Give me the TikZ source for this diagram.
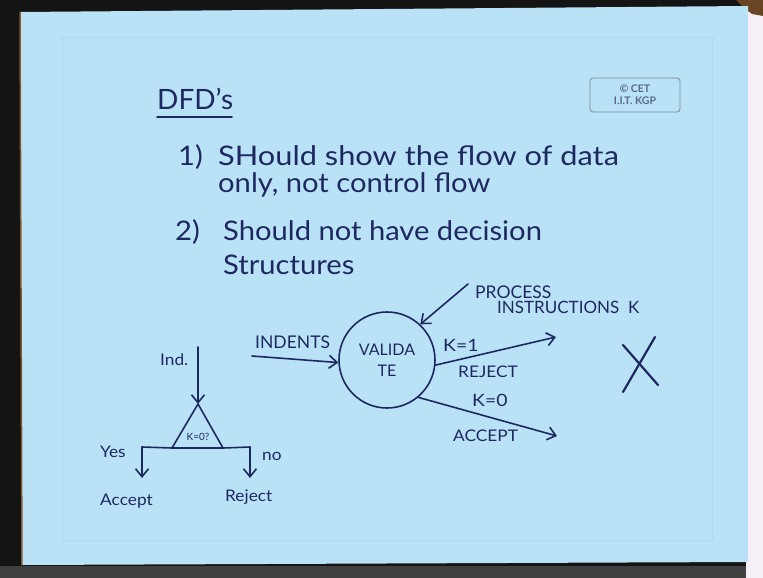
\documentclass[tikz,border=0pt]{standalone}
\usepackage{fontspec}
\setmainfont{Lato}
\newfontfamily\handwide[FakeStretch=1.08]{Lato}
\newfontfamily\handwider[FakeStretch=1.14]{Lato}
\usetikzlibrary{arrows.meta}
\definecolor{paper}{RGB}{186,226,246}
\definecolor{ink}{RGB}{30,40,96}
\definecolor{framec}{RGB}{174,216,238}
\definecolor{cetc}{RGB}{90,105,130}
\definecolor{sidec}{RGB}{246,240,246}
\begin{document}
\begin{tikzpicture}[x=1pt,y=-1pt,
  hand/.style={draw=ink, line width=1.6pt, line cap=round, line join=round},
  arr/.style={hand, -{Straight Barb[length=8pt,width=13pt,line width=1.6pt]}},
  txt/.style={text=ink, inner sep=0pt, font=\handwide\fontsize{27}{30}\selectfont, anchor=base west},
  lbl/.style={text=ink, inner sep=0pt, font=\fontsize{17.5}{20}\selectfont, anchor=base west},
  sml/.style={text=ink, inner sep=0pt, font=\handwide\fontsize{16}{18}\selectfont, anchor=base west}]
\useasboundingbox (0,0) rectangle (763,578);
% background
\fill[black!92] (0,0) rectangle (763,578);
\fill[sidec] (746,8) rectangle (763,578);
\fill[brown!55!black] (736,0) -- (763,0) -- (763,16) -- (752,14) -- (744,8) -- cycle;
\fill[paper] (20,12) -- (748,6) -- (748,562) -- (22,565) -- cycle;
\draw[brown!70!black, line width=1.5pt] (20,12) -- (22,565);
\fill[black!75] (0,566) rectangle (746,578);
\draw[framec, line width=1pt] (62,38) rectangle (712,540);
% CET box
\node[draw=cetc!80, rounded corners=3pt, line width=0.8pt, minimum width=90pt, minimum height=34pt,
  align=center, text=cetc, font=\bfseries\fontsize{10.5}{12}\selectfont] (cet) at (635,95) {© CET\\I.I.T. KGP};
% title
\node[text=ink, inner sep=0pt, font=\fontsize{28}{30}\selectfont, anchor=base west] (title) at (157,110) {DFD's};
\coordinate (ul1) at (157,117);
\coordinate (ul2) at (232,117);
\draw[hand] (ul1) -- (ul2);
% rules
\node[txt] (n1) at (178,165) {1)};
\node[txt, font=\handwider\fontsize{27}{30}\selectfont] (r1) at (218,165) {SHould show the flow of data};
\node[txt] (r1b) at (218,192) {only, not control flow};
\node[txt] (n2) at (175,240) {2)};
\node[txt] (r2) at (223,240) {Should not have decision};
\node[txt] (r2b) at (223,274) {Structures};
% DFD
\node[circle, draw=ink, line width=1.6pt, minimum size=96pt, inner sep=0pt, align=center,
  text=ink, font=\fontsize{16}{21}\selectfont] (val) at (387,360) {VALIDA\\TE};
\coordinate (indS) at (252,356);
\draw[arr] (indS) -- (val.183);
\node[lbl] (indl) at (255,348) {INDENTS};
\coordinate (pS) at (468,284);
\draw[arr] (pS) -- (val.47);
\node[lbl] (proc) at (475,298) {PROCESS};
\node[lbl, font=\fontsize{17}{20}\selectfont] (instr) at (497,313) {INSTRUCTIONS\ \ K};
\coordinate (k1E) at (556,337);
\draw[arr] (val.-6) -- (k1E);
\node[sml, font=\handwider\fontsize{17}{18}\selectfont] (k1) at (443,351) {K=1};
\node[sml] (rej) at (458,377) {REJECT};
\coordinate (k0E) at (557,436);
\draw[arr] (val.-50) -- (k0E);
\node[sml, font=\handwider\fontsize{17}{18}\selectfont] (k0) at (472,406) {K=0};
\node[sml] (acc) at (453,441) {ACCEPT};
% big X
\draw[hand, line width=2.2pt] (623,345) -- (658,385);
\draw[hand, line width=2.2pt] (655,337) -- (623,392);
% decision structure
\node[sml] (indn) at (160,365) {Ind.};
\coordinate (iTop) at (198,347);
\coordinate (tA) at (198,404);
\coordinate (tL) at (172,448);
\coordinate (tR) at (223,448);
\draw[hand] (tA) -- (tL) -- (tR) -- cycle;
\draw[arr] (iTop) -- (tA);
\node[text=ink, inner sep=0pt, font=\fontsize{10}{10}\selectfont] (kq) at (198,437) {K=0?};
\coordinate (yL) at (142,447);
\coordinate (nR) at (250,447);
\draw[hand] (tL) -- (yL);
\draw[hand] (tR) -- (nR);
\coordinate (yD) at (142,478);
\coordinate (nD) at (250,478);
\draw[arr] (yL) -- (yD);
\draw[arr] (nR) -- (nD);
\node[sml] (yes) at (100,457) {Yes};
\node[sml] (no) at (262,460) {no};
\node[sml] (accl) at (100,505) {Accept};
\node[sml] (rejl) at (225,501) {Reject};
\end{tikzpicture}
\end{document}
